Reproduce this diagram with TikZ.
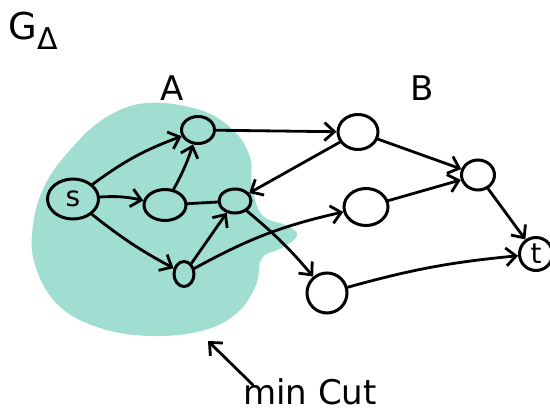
\documentclass[tikz,border=0pt]{standalone}
\usepackage{fontspec}
\setmainfont{DejaVu Sans}
\usetikzlibrary{shapes.geometric,arrows.meta}
\definecolor{cutfill}{RGB}{160,222,210}
\tikzset{
  vtx/.style={draw=black, ellipse, line width=3pt, inner sep=0pt, font=\fontsize{28}{28}\selectfont},
  edge/.style={draw=black, line width=2.8pt, line cap=round},
  arr/.style={edge, -{Straight Barb[length=10pt,width=18pt,line width=2.8pt]}},
  hand/.style={font=\fontsize{34}{34}\selectfont, inner sep=0pt}
}
\begin{document}
\begin{tikzpicture}[x=1pt,y=-1pt]
\useasboundingbox (0,0) rectangle (550,420);
\clip (0,0) rectangle (550,420);

% the shaded side A of the cut
\fill[cutfill] plot[smooth cycle, tension=0.65] coordinates {
  (147,103) (200,110) (233,130) (250,157) (252,185) (262,215)
  (288,226) (297,236) (282,248) (262,258) (256,285) (238,312)
  (205,330) (153,336) (100,328) (58,305) (35,265) (33,225)
  (45,185) (70,150) (105,118)};

% vertices
\node[vtx, minimum width=51pt, minimum height=40pt] (s)  at (73,199) {s};
\node[vtx, minimum width=33pt, minimum height=27pt] (a1) at (198,130) {};
\node[vtx, minimum width=42pt, minimum height=31pt] (a2) at (165,205) {};
\node[vtx, minimum width=32pt, minimum height=24pt] (a3) at (235,201) {};
\node[vtx, minimum width=20pt, minimum height=25pt] (a4) at (184,274) {};
\node[vtx, minimum width=40pt, minimum height=35pt] (b1) at (358,132) {};
\node[vtx, minimum width=44pt, minimum height=37pt] (b2) at (366,207) {};
\node[vtx, minimum width=40pt, minimum height=40pt] (b3) at (327,293) {};
\node[vtx, minimum width=33pt, minimum height=30pt] (c1) at (478,175) {};
\node[vtx, minimum width=33pt, minimum height=33pt] (t)  at (536,254) {t};

% connectors
\draw[arr] (s) to[bend left=8] (a1);
\draw[arr] (s) to[bend left=8] (a2);
\draw[arr] (s) to[bend right=5] (a4);
\draw[arr] (a2) to[bend right=5] (a1);
\draw[edge] (a2) -- (a3);
\draw[arr] (a4) -- (a3);
\draw[arr] (a1) -- (b1);
\draw[arr] (b1) -- (a3);
\draw[arr] (a3) to[bend left=5] (b3);
\draw[arr] (a4) to[bend left=8] (b2);
\draw[arr] (b1) -- (c1);
\draw[arr] (b2) -- (c1);
\draw[arr] (c1) -- (t);
\draw[arr] (b3) to[bend left=5] (t);

% labels
\node[hand, anchor=base west] (g) at (8,40) {\fontsize{37}{37}\selectfont G};
\node[hand, anchor=base west] (delta) at ([yshift=-10pt]g.base east) {\fontsize{30}{30}\selectfont Δ};
\node[hand] (la) at (172,88) {A};
\node[hand] (lb) at (422,88) {B};
\node[hand, anchor=base west, font=\fontsize{34}{34}\selectfont] (mc) at (243,404) {min Cut};
\coordinate (mcs) at (253,385);
\coordinate (cutpt) at (208,341);
\draw[arr] (mcs) -- (cutpt);
\end{tikzpicture}
\end{document}
